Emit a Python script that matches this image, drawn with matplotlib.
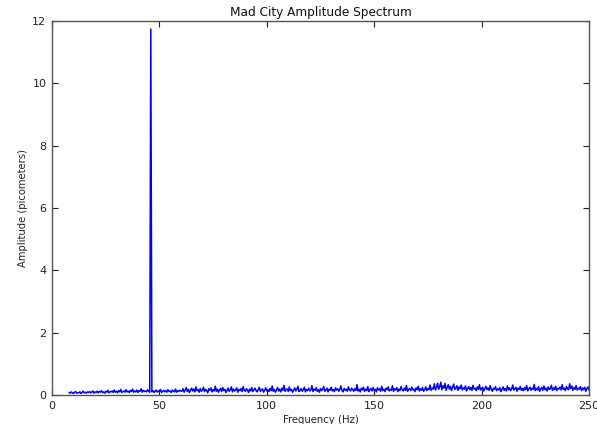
import numpy as np
import matplotlib
matplotlib.use("Agg")
import matplotlib.pyplot as plt

# Frequency grid (Hz): start and spacing of the spectrum bins
freq_start = 8.0
freq_step = 0.5

# Amplitude (picometers)
amp_low = [
    0.08,0.06,0.10,0.07,0.05,0.09,0.11,0.06,0.08,0.07,
    0.10,0.05,0.08,0.12,0.07,0.09,0.06,0.10,0.08,0.11,
    0.07,0.09,0.13,0.06,0.10,0.08,0.12,0.07,0.11,0.09,
    0.14,0.08,0.10,0.06,0.12,0.09,0.15,0.07,0.11,0.10,
    0.13,0.08,0.16,0.09,0.12,0.07,0.14,0.10,0.18,0.08,
    0.11,0.13,0.09,0.17,0.10,0.12,0.08,0.15,0.11,0.19,
    0.09,0.13,0.10,0.16,0.08,0.14,0.12,0.20,0.09,0.15,
    0.11,0.13,0.10,0.17,0.12,0.09,
]
amp_peak = [11.75]
amp_mid = [
    0.10,0.14,0.08,0.12,0.16,0.09,0.13,0.11,0.18,0.08,
    0.12,0.15,0.10,0.14,0.09,0.17,0.11,0.13,0.08,0.16,
    0.12,0.10,0.19,0.09,0.14,0.11,0.15,0.13,
    0.12,0.20,0.09,0.16,0.24,0.11,0.18,0.08,0.15,0.22,
    0.13,0.19,0.10,0.26,0.14,0.17,0.09,0.21,0.12,0.16,
    0.25,0.11,0.18,0.14,0.07,0.20,0.15,0.23,0.10,0.17,
    0.13,0.28,0.12,0.19,0.09,0.16,0.21,0.11,0.24,0.14,
    0.18,0.08,0.15,0.22,0.12,0.17,0.26,0.10,0.19,0.13,
    0.16,0.23,0.09,0.18,0.14,0.21,0.11,0.27,0.15,0.12,
    0.20,0.16,0.08,0.19,0.13,0.24,0.11,0.17,0.22,0.14,
    0.10,0.18,0.25,0.12,0.16,0.20,0.09,0.15,0.23,0.13,
    0.17,0.11,0.21,0.14,0.29,0.12,0.18,0.09,0.16,0.24,
    0.13,0.19,0.10,0.22,0.15,0.31,0.12,0.17,0.20,0.11,
    0.26,0.14,0.18,0.09,0.16,0.23,0.13,0.19,0.28,0.11,
    0.15,0.21,0.12,0.17,0.25,0.10,0.18,0.14,0.22,0.13,
    0.16,0.30,0.11,0.19,0.15,0.24,0.12,0.17,0.09,0.21,
    0.14,0.18,0.27,0.12,0.16,0.22,0.10,0.19,0.15,0.25,
    0.13,0.17,0.11,0.23,0.16,0.20,0.12,0.18,0.29,0.14,
    0.10,0.21,0.15,0.19,0.12,0.26,0.16,0.13,0.22,0.17,
]
amp_high = [
    0.12,0.20,0.15,0.33,0.13,0.18,0.10,0.22,0.16,0.25,
    0.12,0.19,0.14,0.27,0.11,0.17,0.21,0.13,0.24,0.15,
    0.18,0.10,0.23,0.16,0.20,0.12,0.28,0.14,0.19,0.11,
    0.22,0.17,0.26,0.13,0.18,0.15,0.30,0.12,0.20,0.16,
    0.24,0.11,0.19,0.14,0.27,0.17,0.13,0.22,0.15,0.31,
    0.12,0.18,0.21,0.14,0.25,0.16,0.19,0.11,0.23,0.17,
    0.28,0.13,0.20,0.15,0.24,0.12,0.18,0.26,0.14,0.21,
    0.17,0.32,0.15,0.22,0.19,0.36,0.16,0.24,0.38,0.18,
    0.26,0.41,0.17,0.30,0.22,0.37,0.15,0.25,0.33,0.19,
    0.28,0.14,0.24,0.35,0.18,0.22,0.30,0.15,0.26,0.20,
    0.32,0.16,0.23,0.19,0.29,0.13,0.21,0.27,0.17,0.24,
    0.15,0.31,0.19,0.22,0.14,0.26,0.18,0.33,0.16,0.21,
    0.25,0.13,0.20,0.28,0.17,0.23,0.15,0.30,0.19,0.12,
    0.22,0.18,0.27,0.14,0.20,0.16,0.24,0.11,0.19,0.26,
    0.15,0.21,0.13,0.29,0.17,0.23,0.14,0.20,0.32,0.16,
    0.19,0.25,0.12,0.22,0.18,0.27,0.15,0.21,0.14,0.24,
    0.17,0.30,0.13,0.20,0.25,0.15,0.22,0.18,0.34,0.14,
    0.21,0.16,0.27,0.12,0.19,0.24,0.15,0.29,0.17,0.22,
    0.13,0.26,0.18,0.20,0.31,0.15,0.23,0.17,0.28,0.14,
    0.21,0.19,0.25,0.16,0.33,0.18,0.22,0.14,0.27,0.20,
    0.17,0.36,0.21,0.29,0.15,0.24,0.18,0.30,0.16,0.22,
    0.19,0.27,0.14,0.23,0.17,0.25,0.12,0.20,0.26,0.16,
    0.21,
]

amplitude = np.array(amp_low + amp_peak + amp_mid + amp_high)
frequency = freq_start + freq_step * np.arange(len(amplitude))

x_ticks = [0, 50, 100, 150, 200, 250]
y_ticks = [0, 2, 4, 6, 8, 10, 12]

plt.rcParams['font.family'] = ['DejaVu Sans']

fig = plt.figure(figsize=(5.97, 4.24), dpi=100, facecolor='white')
ax = fig.add_axes([0.0871, 0.0684, 0.8995, 0.8816])
ax.plot(frequency, amplitude, color='#0000ff', linewidth=1.1)

ax.set_xlim(0, 250)
ax.set_ylim(0, 12)
ax.set_xticks(x_ticks)
ax.set_yticks(y_ticks)
ax.tick_params(direction='in', top=True, right=True, length=4, width=0.8,
               labelsize=8, colors='#222222', pad=4)
for s in ax.spines.values():
    s.set_color('#555555')
    s.set_linewidth(1.0)

ax.set_title('Mad City Amplitude Spectrum', fontsize=8.7, color='#111111', pad=4)
ax.set_xlabel('Frequency (Hz)', fontsize=7.3, color='#222222', labelpad=3)
ax.set_ylabel('Amplitude (picometers)', fontsize=7.2, color='#222222', labelpad=3)

fig.savefig('out.png', dpi=100, facecolor='white')
